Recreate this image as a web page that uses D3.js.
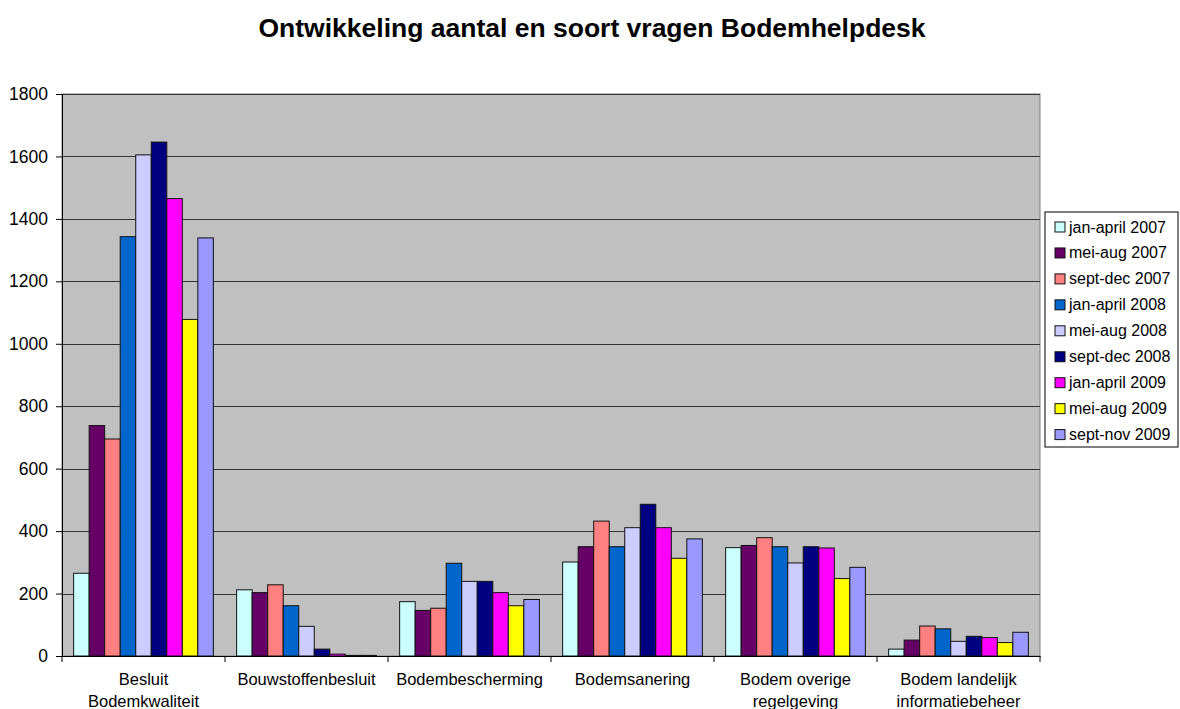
<!DOCTYPE html>
<html>
<head>
<meta charset="utf-8">
<script src="https://cdn.jsdelivr.net/npm/d3@7"></script>
<style>
  body { margin: 0; background: #fff; }
  text { font-family: "Liberation Sans", Arial, sans-serif; fill: #000; }
</style>
</head>
<body>
<div id="chart"></div>
<script>
// categories, series names, colours and values
var categories = ["Besluit Bodemkwaliteit", "Bouwstoffenbesluit", "Bodembescherming", "Bodemsanering", "Bodem overige regelgeving", "Bodem landelijk informatiebeheer"];
var categoryLines = [["Besluit", "Bodemkwaliteit"], ["Bouwstoffenbesluit"], ["Bodembescherming"], ["Bodemsanering"], ["Bodem overige", "regelgeving"], ["Bodem landelijk", "informatiebeheer"]];
var seriesNames = ["jan-april 2007", "mei-aug 2007", "sept-dec 2007", "jan-april 2008", "mei-aug 2008", "sept-dec 2008", "jan-april 2009", "mei-aug 2009", "sept-nov 2009"];
var seriesColors = ["#CCFFFF", "#660066", "#FF8080", "#0066CC", "#CCCCFF", "#000080", "#FF00FF", "#FFFF00", "#9999FF"];

// one array per series, values per category in order
var janApr2007 = [265, 212, 174, 301, 347, 22];
var meiAug2007 = [738, 203, 146, 350, 354, 51];
var septDec2007 = [695, 228, 153, 432, 379, 96];
var janApr2008 = [1343, 161, 297, 350, 350, 87];
var meiAug2008 = [1605, 95, 239, 411, 298, 47];
var septDec2008 = [1646, 22, 239, 486, 350, 63];
var janApr2009 = [1465, 6, 203, 411, 346, 59];
var meiAug2009 = [1078, 2, 161, 313, 248, 43];
var septNov2009 = [1339, 2, 181, 375, 284, 76];
var seriesValues = [janApr2007, meiAug2007, septDec2007, janApr2008, meiAug2008, septDec2008, janApr2009, meiAug2009, septNov2009];

var yTicks = [0, 200, 400, 600, 800, 1000, 1200, 1400, 1600, 1800];

//chart dimensions
var svgWidth = 1180;
var svgHeight = 709;
var margin = { top: 94, right: 140, bottom: 53, left: 62 };
var chartWidth = svgWidth - margin.left - margin.right;
var chartHeight = svgHeight - margin.top - margin.bottom;

var svg = d3.select("#chart")
  .append("svg")
  .attr("width", svgWidth)
  .attr("height", svgHeight);

svg.append("text")
  .attr("x", 592)
  .attr("y", 37)
  .attr("text-anchor", "middle")
  .style("font-size", "26.5px")
  .style("font-weight", "bold")
  .text("Ontwikkeling aantal en soort vragen Bodemhelpdesk");

var chartGroup = svg.append("g")
  .attr("transform", `translate(${margin.left}, ${margin.top})`);

//scales
var x0 = d3.scaleBand()
  .domain(categories)
  .range([0, chartWidth])
  .padding(0);

var x1 = d3.scaleBand()
  .domain(seriesNames)
  .range([0, x0.bandwidth()])
  .paddingInner(0)
  .paddingOuter(0.75);

var yLinearScale = d3.scaleLinear()
  .domain([0, 1800])
  .range([chartHeight, 0]);

//plot background
chartGroup.append("rect")
  .attr("width", chartWidth)
  .attr("height", chartHeight)
  .attr("fill", "#C0C0C0")
  .attr("stroke", "#808080")
  .attr("stroke-width", 1);

//gridlines
chartGroup.selectAll(".grid")
  .data(yTicks.filter(d => d > 0))
  .enter()
  .append("line")
  .attr("class", "grid")
  .attr("x1", 0)
  .attr("x2", chartWidth)
  .attr("y1", d => Math.round(yLinearScale(d)) + 0.5)
  .attr("y2", d => Math.round(yLinearScale(d)) + 0.5)
  .attr("stroke", "#333")
  .attr("stroke-width", 1);

//bars
var groups = chartGroup.selectAll(".cat")
  .data(categories)
  .enter()
  .append("g")
  .attr("class", "cat")
  .attr("transform", d => `translate(${x0(d)}, 0)`);

groups.selectAll("rect")
  .data((c, ci) => seriesNames.map((s, si) => ({ series: s, color: seriesColors[si], value: seriesValues[si][ci] })))
  .enter()
  .append("rect")
  .attr("x", d => x1(d.series))
  .attr("y", d => yLinearScale(d.value))
  .attr("width", x1.bandwidth())
  .attr("height", d => chartHeight - yLinearScale(d.value))
  .attr("fill", d => d.color)
  .attr("stroke", "#111")
  .attr("stroke-width", 1);

//axes
var leftAxis = d3.axisLeft(yLinearScale)
  .tickValues(yTicks)
  .tickSize(6)
  .tickPadding(8)
  .tickFormat(d3.format("d"));

var yAxisG = chartGroup.append("g").call(leftAxis);
yAxisG.selectAll("text").style("font-size", "17.5px");
yAxisG.selectAll("path, line").attr("stroke", "#000");

var bottomAxis = d3.axisBottom(x0).tickSize(0).tickFormat("");
var xAxisG = chartGroup.append("g")
  .attr("transform", `translate(0, ${chartHeight})`)
  .call(bottomAxis);
xAxisG.select("path").attr("stroke", "#000");

//tick marks at category boundaries
xAxisG.selectAll(".bound")
  .data(d3.range(categories.length + 1))
  .enter()
  .append("line")
  .attr("class", "bound")
  .attr("x1", i => i * x0.step())
  .attr("x2", i => i * x0.step())
  .attr("y1", 0)
  .attr("y2", 6)
  .attr("stroke", "#000");

//category labels, wrapped as in the original
categories.forEach(function(c, ci) {
  var t = chartGroup.append("text")
    .attr("x", x0(c) + x0.bandwidth() / 2)
    .attr("y", chartHeight + 29)
    .attr("text-anchor", "middle")
    .style("font-size", "16.5px");
  categoryLines[ci].forEach(function(line, li) {
    t.append("tspan")
      .attr("x", x0(c) + x0.bandwidth() / 2)
      .attr("dy", li === 0 ? 0 : "1.35em")
      .text(line);
  });
});

//legend
var legend = svg.append("g")
  .attr("transform", "translate(1045, 212)");

legend.append("rect")
  .attr("width", 133)
  .attr("height", 235)
  .attr("fill", "#fff")
  .attr("stroke", "#000")
  .attr("stroke-width", 1);

var lineLegend = legend.selectAll(".lineLegend")
  .data(seriesNames)
  .enter()
  .append("g")
  .attr("class", "lineLegend")
  .attr("transform", (d, i) => `translate(0, ${15 + i * 25.95})`);

lineLegend.append("rect")
  .attr("x", 10)
  .attr("y", -5)
  .attr("width", 10)
  .attr("height", 10)
  .attr("fill", (d, i) => seriesColors[i])
  .attr("stroke", "#111");

lineLegend.append("text")
  .attr("x", 24)
  .attr("y", 5.5)
  .style("font-size", "16px")
  .text(d => d);
</script>
</body>
</html>
